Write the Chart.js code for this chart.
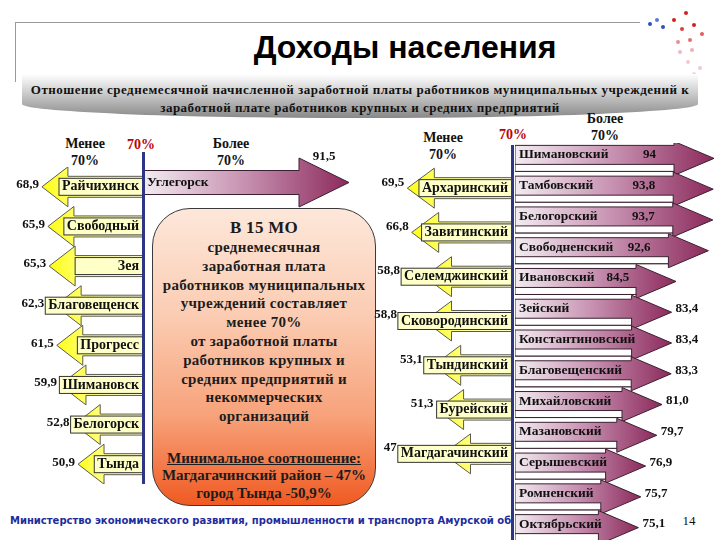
<!DOCTYPE html>
<html>
<head>
<meta charset="utf-8">
<script src="https://cdn.jsdelivr.net/npm/chart.js@4.4.0/dist/chart.umd.min.js"></script>
<style>
  body { margin: 0; width: 720px; height: 540px; overflow: hidden; background: #fff; position: relative;
         font-family: 'Liberation Serif', 'Times New Roman', serif; color: #111; }
  .abs { position: absolute; }
  .c { position: absolute; transform: translate(-50%, -50%); white-space: nowrap; font-weight: bold; }
  canvas { position: absolute; }
  #title { left: 405px; top: 47px; font: bold 32px 'Liberation Sans', Arial, sans-serif; color: #000; }
  #band { left: 22px; top: 74px; width: 676px; height: 44px;
          background: linear-gradient(to bottom, #ffffff 0%, #d0d0d0 40%, #888888 100%);
          border-radius: 0 0 50% 50% / 0 0 14px 14px; }
  .sub { font-size: 13px; letter-spacing: 0.5px; }
  .head { font-size: 14px; line-height: 17px; text-align: center; }
  .red { color: #c00000; font-size: 14px; }
  .vline { background: #2f3585; width: 3px; }
  #box { left: 152px; top: 208px; width: 224px; height: 298px; box-sizing: border-box;
         border: 1.5px solid #3a3a3a; border-radius: 38px;
         background: linear-gradient(to bottom, #fde7da 0%, #fbcdb4 35%, #f7a27a 70%, #f05a22 100%);
         text-align: center; font-weight: bold; font-size: 15px; letter-spacing: 0.3px; line-height: 18.8px; color: #1c1c1c;
         padding-top: 9px; }
  #box .big { font-size: 17px; line-height: 20px; }
  #box .min { margin-top: 24px; font-size: 15px; line-height: 17.5px; letter-spacing: 0; }
  #foot { left: 10px; top: 514px; width: 502px; overflow: hidden; white-space: nowrap;
          font: bold 10px 'DejaVu Sans', Verdana, sans-serif; color: #1f2c9c; line-height: 14px; }
  .dot { position: absolute; width: 4px; height: 4px; border-radius: 50%; }
</style>
</head>
<body>

<!-- slide frame -->
<div class="abs" style="left:15px;top:22px;width:625px;height:1px;background:#9a9a9a"></div>
<div class="abs" style="left:15px;top:22px;width:1px;height:60px;background:#9a9a9a"></div>
<div class="dot" style="left:648px;top:22px;background:#3050c0"></div>
<div class="dot" style="left:655px;top:18px;background:#5a78d8"></div>
<div class="dot" style="left:661px;top:25px;background:#3050c0"></div>
<div class="dot" style="left:672px;top:18px;background:#d02020"></div>
<div class="dot" style="left:684px;top:11px;background:#d02020"></div>
<div class="dot" style="left:680px;top:27px;background:#d84040"></div>
<div class="dot" style="left:692px;top:23px;background:#d02020"></div>
<div class="dot" style="left:700px;top:32px;background:#e06060"></div>
<div class="dot" style="left:688px;top:38px;background:#e07070"></div>
<div class="dot" style="left:676px;top:40px;background:#e89090"></div>
<div class="dot" style="left:678px;top:50px;background:#f0b8c0"></div>
<div class="dot" style="left:690px;top:48px;background:#f0b0b8"></div>
<div class="dot" style="left:686px;top:60px;background:#f4c8d0"></div>
<div class="dot" style="left:698px;top:66px;background:#f4c8d0"></div>
<div class="dot" style="left:692px;top:72px;background:#f6d4dc"></div>

<div id="title" class="c">Доходы населения</div>
<div id="band" class="abs"></div>
<div class="c sub" style="left:360px;top:90px">Отношение среднемесячной начисленной заработной платы работников муниципальных учреждений к</div>
<div class="c sub" style="left:360px;top:108px">заработной плате работников крупных и средних предприятий</div>

<div class="c head" style="left:85px;top:152px">Менее<br>70%</div>
<div class="c red" style="left:141px;top:145px">70%</div>
<div class="c head" style="left:231px;top:152px">Более<br>70%</div>
<div class="c head" style="left:443px;top:146px">Менее<br>70%</div>
<div class="c red" style="left:513px;top:135px">70%</div>
<div class="c head" style="left:605px;top:127px">Более<br>70%</div>

<div id="box" class="abs">
  <div class="big">В 15 МО</div>
  среднемесячная<br>заработная плата<br>работников муниципальных<br>учреждений составляет<br>менее 70%<br>от заработной платы<br>работников крупных и<br>средних предприятий и<br>некоммерческих<br>организаций
  <div class="min"><u>Минимальное соотношение:</u><br>Магдагачинский район – 47%<br>город Тында -50,9%</div>
</div>

<div id="foot" class="abs">Министерство экономического развития, промышленности и транспорта Амурской области</div>
<div class="c" style="left:689px;top:521px;font-weight:normal;font-size:13px">14</div>

<canvas id="cityLow" width="143" height="317" style="left:0;top:167px"></canvas>
<canvas id="cityHigh" width="237" height="85" style="left:143px;top:140px"></canvas>
<canvas id="districtLow" width="152" height="310" style="left:360px;top:166px"></canvas>
<canvas id="districtHigh" width="205" height="400" style="left:515px;top:143px"></canvas>

<div class="abs vline" style="left:142px;top:152px;height:332px"></div>
<div class="abs vline" style="left:511px;top:145px;height:395px"></div>

<script>
// Cities and districts, ratio of municipal to large-enterprise wages, %
const cityLowNames = ['Райчихинск', 'Свободный', 'Зея', 'Благовещенск', 'Прогресс', 'Шимановск', 'Белогорск', 'Тында'];
const cityLowValues = [68.9, 65.9, 65.3, 62.3, 61.5, 59.9, 52.8, 50.9];

const cityHighNames = ['Углегорск'];
const cityHighValues = [91.5];

const districtLowNames = ['Архаринский', 'Завитинский', 'Селемджинский', 'Сковородинский', 'Тындинский', 'Бурейский', 'Магдагачинский'];
const districtLowValues = [69.5, 66.8, 58.8, 58.8, 53.1, 51.3, 47];

const districtHighNames = ['Шимановский', 'Тамбовский', 'Белогорский', 'Свободненский', 'Ивановский', 'Зейский',
  'Константиновский', 'Благовещенский', 'Михайловский', 'Мазановский', 'Серышевский', 'Ромненский', 'Октябрьский'];
const districtHighValues = [94, 93.8, 93.7, 92.6, 84.5, 83.4, 83.4, 83.3, 81.0, 79.7, 76.9, 75.7, 75.1];
const districtHighText = ['94', '93,8', '93,7', '92,6', '84,5', '83,4', '83,4', '83,3', '81,0', '79,7', '76,9', '75,7', '75,1'];

const fmt = v => String(v).replace('.', ',');

const YELLOW = ['#ffffdc', '#ffffa0', '#ffff14'];
const PURPLE = ['#f3ecf1', '#c690b0', '#8c2a5c'];

// draws each bar as a block arrow, from the axis minimum to its value
function drawArrows(chart, o) {
  const ctx = chart.ctx;
  const xs = chart.scales.x;
  const base = xs.getPixelForValue(xs.min);
  const meta = chart.getDatasetMeta(0);
  const names = chart.data.labels;
  const texts = chart.data.datasets[0].valueText;
  ctx.save();
  ctx.textBaseline = 'middle';
  meta.data.forEach((bar, i) => {
    const d = o.dir, tip = bar.x, y = bar.y;
    const hb = tip - d * o.headLen;
    const sh = o.shaft / 2, hh = o.head / 2;

    const g = ctx.createLinearGradient(base, 0, tip, 0);
    o.colors.forEach((c, k) => g.addColorStop(k / (o.colors.length - 1), c));
    ctx.beginPath();
    ctx.moveTo(base, y - sh);
    ctx.lineTo(hb, y - sh);
    ctx.lineTo(hb, y - hh);
    ctx.lineTo(tip, y);
    ctx.lineTo(hb, y + hh);
    ctx.lineTo(hb, y + sh);
    ctx.lineTo(base, y + sh);
    ctx.closePath();
    ctx.fillStyle = g;
    ctx.fill();
    ctx.lineWidth = 1;
    ctx.strokeStyle = o.edge;
    ctx.stroke();

    ctx.font = o.nameFont;
    const nw = ctx.measureText(names[i]).width;
    const ty = y - (o.strip || 0) / 2;
    const textStart = d < 0 ? base - 4 - nw : base + 4;

    if (o.box) {
      const left = Math.min(textStart - 3, hb);
      ctx.fillStyle = o.box;
      ctx.fillRect(left, y - sh + 2, base - left, o.shaft - 4);
      ctx.strokeStyle = '#333';
      ctx.strokeRect(left, y - sh + 2, base - left, o.shaft - 4);
    }
    if (o.strip) {
      ctx.fillStyle = '#fff';
      ctx.fillRect(base, y + sh - o.strip, hb - base, o.strip);
      ctx.strokeStyle = o.edge;
      ctx.strokeRect(base, y + sh - o.strip, hb - base, o.strip);
    }

    ctx.fillStyle = o.ink;
    ctx.textAlign = 'left';
    ctx.fillText(names[i], textStart, ty);

    ctx.font = o.valueFont;
    const t = texts[i], vw = ctx.measureText(t).width;
    let vx, vy = ty + (o.valueDy || 0);
    if (o.valueMode === 'tip') {
      vx = Math.min(tip - 3, textStart - 4) - vw;
    } else if (o.valueMode === 'fit') {
      vx = tip + 4 + vw < chart.width - 18
        ? tip + 4
        : Math.max(textStart + nw + 12, hb - 18 - vw);
    } else {
      vx = (hb + tip) / 2 - vw / 2;
      vy = y - hh - 1;
    }
    ctx.fillText(t, vx, vy);
  });
  ctx.restore();
}

function makeArrowChart(id, names, values, texts, xScale, style) {
  return new Chart(document.getElementById(id), {
    type: 'bar',
    data: {
      labels: names,
      datasets: [{ data: values, valueText: texts, backgroundColor: 'rgba(0,0,0,0)', borderWidth: 0 }]
    },
    options: {
      indexAxis: 'y',
      responsive: false,
      animation: false,
      events: [],
      layout: { padding: 0 },
      scales: {
        x: Object.assign({ type: 'linear', display: false }, xScale),
        y: { display: false }
      },
      plugins: { legend: { display: false }, tooltip: { enabled: false } }
    },
    plugins: [{ id: 'arrows', afterDatasetsDraw: chart => drawArrows(chart, style) }]
  });
}

const yellowFont = 'bold 14px "Liberation Serif"';
const purpleFont = 'bold 13.5px "Liberation Serif"';
const valueFont = 'bold 13px "Liberation Serif"';

function build() {
  makeArrowChart('cityLow', cityLowNames, cityLowValues, cityLowValues.map(fmt),
    { min: 18.5, max: 89.8, reverse: true },
    { dir: -1, shaft: 21, head: 40, headLen: 26, colors: YELLOW, edge: '#5a5a50', box: '#ffffc8',
      ink: '#111', nameFont: yellowFont, valueFont, valueMode: 'tip', valueDy: -2 });

  makeArrowChart('cityHigh', cityHighNames, cityHighValues, cityHighValues.map(fmt),
    { min: 40, max: 99.25 },
    { dir: 1, shaft: 24, head: 49, headLen: 50, colors: PURPLE, edge: '#3a2030',
      ink: '#111', nameFont: purpleFont, valueFont, valueMode: 'above' });

  makeArrowChart('districtLow', districtLowNames, districtLowValues, districtLowValues.map(fmt),
    { min: 4.35, max: 98.97, reverse: true },
    { dir: -1, shaft: 21, head: 40, headLen: 27, colors: YELLOW, edge: '#5a5a50', box: '#ffffc8',
      ink: '#111', nameFont: yellowFont, valueFont, valueMode: 'tip', valueDy: -6 });

  makeArrowChart('districtHigh', districtHighNames, districtHighValues, districtHighText,
    { min: 44.25, max: 95.5 },
    { dir: 1, shaft: 26, head: 34, headLen: 40, strip: 7, colors: PURPLE, edge: '#3a2030',
      ink: '#111', nameFont: purpleFont, valueFont, valueMode: 'fit' });
}

// make sure the serif face is ready before the canvases draw text
document.fonts.load(yellowFont).then(build, build);
</script>
</body>
</html>
